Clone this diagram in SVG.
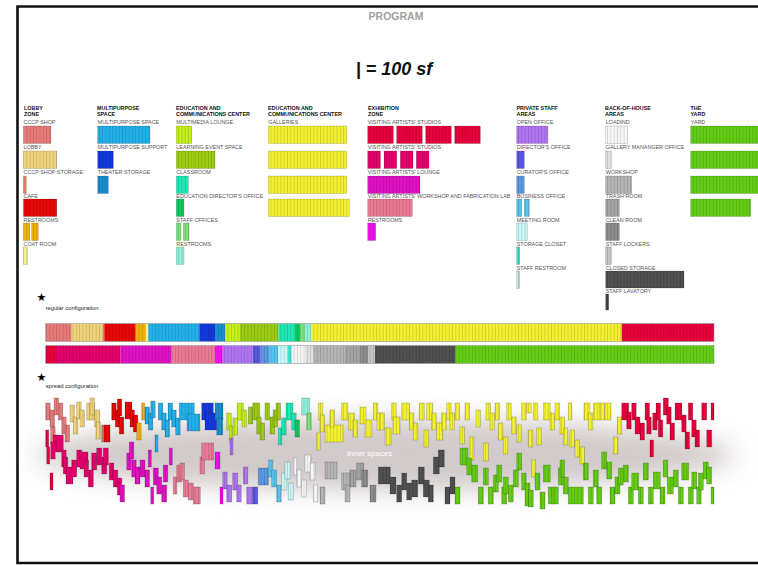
<svg xmlns="http://www.w3.org/2000/svg" xmlns:xlink="http://www.w3.org/1999/xlink" width="758" height="565" viewBox="0 0 758 565">
<style>
.hd{font:bold 5.4px "Liberation Sans",Arial,sans-serif;fill:#111}
.lb{font:5.4px "Liberation Sans",Arial,sans-serif;fill:#555}
.sm{font:5.8px "Liberation Sans",Arial,sans-serif;fill:#222}
.st{font:11px "DejaVu Sans",sans-serif;fill:#000}
.bars rect{stroke:#000;stroke-opacity:.28;stroke-width:.5}
#spread rect{stroke-width:.8;stroke-opacity:.22}
.a{fill:url(#pa)}.b{fill:url(#pb)}.c{fill:url(#pc)}.d{fill:url(#pd)}.e{fill:url(#pe)}.f{fill:url(#pf)}.g{fill:url(#pg)}.h{fill:url(#ph)}.i{fill:url(#pi)}.j{fill:url(#pj)}.k{fill:url(#pk)}.l{fill:url(#pl)}.m{fill:url(#pm)}.n{fill:url(#pn)}.o{fill:url(#po)}.p{fill:url(#pp)}.q{fill:url(#pq)}.r{fill:url(#pr)}.s{fill:url(#ps)}.t{fill:url(#pt)}.u{fill:url(#pu)}.v{fill:url(#pv)}.w{fill:url(#pw)}.x{fill:url(#px)}.y{fill:url(#py)}.z{fill:url(#pz)}.A{fill:url(#pA)}.B{fill:url(#pB)}.C{fill:url(#pC)}.D{fill:url(#pD)}.E{fill:url(#pE)}.F{fill:url(#pF)}.G{fill:url(#pG)}.H{fill:url(#pH)}.I{fill:url(#pI)}.J{fill:url(#pJ)}.K{fill:url(#pK)}
</style>
<defs>
<rect id="sl" width=".6" height="4" fill="#000" fill-opacity=".2"/>
<pattern id="pa" width="3.3" height="4" patternUnits="userSpaceOnUse"><rect width="3.3" height="4" fill="#e87a7a"/><use href="#sl"/></pattern>
<pattern id="pb" width="3.3" height="4" patternUnits="userSpaceOnUse"><rect width="3.3" height="4" fill="#f0d27a"/><use href="#sl"/></pattern>
<pattern id="pc" width="3.3" height="4" patternUnits="userSpaceOnUse"><rect width="3.3" height="4" fill="#d4806a"/><use href="#sl"/></pattern>
<pattern id="pd" width="3.3" height="4" patternUnits="userSpaceOnUse"><rect width="3.3" height="4" fill="#e80808"/><use href="#sl"/></pattern>
<pattern id="pe" width="3.3" height="4" patternUnits="userSpaceOnUse"><rect width="3.3" height="4" fill="#f0b00c"/><use href="#sl"/></pattern>
<pattern id="pf" width="3.3" height="4" patternUnits="userSpaceOnUse"><rect width="3.3" height="4" fill="#f4f08a"/><use href="#sl"/></pattern>
<pattern id="pg" width="3.3" height="4" patternUnits="userSpaceOnUse"><rect width="3.3" height="4" fill="#22b0ea"/><use href="#sl"/></pattern>
<pattern id="ph" width="3.3" height="4" patternUnits="userSpaceOnUse"><rect width="3.3" height="4" fill="#1438e0"/><use href="#sl"/></pattern>
<pattern id="pi" width="3.3" height="4" patternUnits="userSpaceOnUse"><rect width="3.3" height="4" fill="#1a8ed0"/><use href="#sl"/></pattern>
<pattern id="pj" width="3.3" height="4" patternUnits="userSpaceOnUse"><rect width="3.3" height="4" fill="#c4f01c"/><use href="#sl"/></pattern>
<pattern id="pk" width="3.3" height="4" patternUnits="userSpaceOnUse"><rect width="3.3" height="4" fill="#9ccc12"/><use href="#sl"/></pattern>
<pattern id="pl" width="3.3" height="4" patternUnits="userSpaceOnUse"><rect width="3.3" height="4" fill="#20e8b4"/><use href="#sl"/></pattern>
<pattern id="pm" width="3.3" height="4" patternUnits="userSpaceOnUse"><rect width="3.3" height="4" fill="#10c860"/><use href="#sl"/></pattern>
<pattern id="pn" width="3.3" height="4" patternUnits="userSpaceOnUse"><rect width="3.3" height="4" fill="#7ee07a"/><use href="#sl"/></pattern>
<pattern id="po" width="3.3" height="4" patternUnits="userSpaceOnUse"><rect width="3.3" height="4" fill="#8ef0d8"/><use href="#sl"/></pattern>
<pattern id="pp" width="3.3" height="4" patternUnits="userSpaceOnUse"><rect width="3.3" height="4" fill="#f2f030"/><use href="#sl"/></pattern>
<pattern id="pq" width="3.3" height="4" patternUnits="userSpaceOnUse"><rect width="3.3" height="4" fill="#e8003c"/><use href="#sl"/></pattern>
<pattern id="pr" width="3.3" height="4" patternUnits="userSpaceOnUse"><rect width="3.3" height="4" fill="#e4006c"/><use href="#sl"/></pattern>
<pattern id="ps" width="3.3" height="4" patternUnits="userSpaceOnUse"><rect width="3.3" height="4" fill="#e012c4"/><use href="#sl"/></pattern>
<pattern id="pt" width="3.3" height="4" patternUnits="userSpaceOnUse"><rect width="3.3" height="4" fill="#ea7a94"/><use href="#sl"/></pattern>
<pattern id="pu" width="3.3" height="4" patternUnits="userSpaceOnUse"><rect width="3.3" height="4" fill="#f010f0"/><use href="#sl"/></pattern>
<pattern id="pv" width="3.3" height="4" patternUnits="userSpaceOnUse"><rect width="3.3" height="4" fill="#b074f0"/><use href="#sl"/></pattern>
<pattern id="pw" width="3.3" height="4" patternUnits="userSpaceOnUse"><rect width="3.3" height="4" fill="#5858e0"/><use href="#sl"/></pattern>
<pattern id="px" width="3.3" height="4" patternUnits="userSpaceOnUse"><rect width="3.3" height="4" fill="#5a98e4"/><use href="#sl"/></pattern>
<pattern id="py" width="3.3" height="4" patternUnits="userSpaceOnUse"><rect width="3.3" height="4" fill="#56c4f0"/><use href="#sl"/></pattern>
<pattern id="pz" width="3.3" height="4" patternUnits="userSpaceOnUse"><rect width="3.3" height="4" fill="#c8f8f8"/><use href="#sl"/></pattern>
<pattern id="pA" width="3.3" height="4" patternUnits="userSpaceOnUse"><rect width="3.3" height="4" fill="#40e0d0"/><use href="#sl"/></pattern>
<pattern id="pB" width="3.3" height="4" patternUnits="userSpaceOnUse"><rect width="3.3" height="4" fill="#c8e4e4"/><use href="#sl"/></pattern>
<pattern id="pC" width="3.3" height="4" patternUnits="userSpaceOnUse"><rect width="3.3" height="4" fill="#f6f6f6"/><use href="#sl"/></pattern>
<pattern id="pD" width="3.3" height="4" patternUnits="userSpaceOnUse"><rect width="3.3" height="4" fill="#e0e0e0"/><use href="#sl"/></pattern>
<pattern id="pE" width="3.3" height="4" patternUnits="userSpaceOnUse"><rect width="3.3" height="4" fill="#b4b4b4"/><use href="#sl"/></pattern>
<pattern id="pF" width="3.3" height="4" patternUnits="userSpaceOnUse"><rect width="3.3" height="4" fill="#a4a4a4"/><use href="#sl"/></pattern>
<pattern id="pG" width="3.3" height="4" patternUnits="userSpaceOnUse"><rect width="3.3" height="4" fill="#8c8c8c"/><use href="#sl"/></pattern>
<pattern id="pH" width="3.3" height="4" patternUnits="userSpaceOnUse"><rect width="3.3" height="4" fill="#c4c4c4"/><use href="#sl"/></pattern>
<pattern id="pI" width="3.3" height="4" patternUnits="userSpaceOnUse"><rect width="3.3" height="4" fill="#505050"/><use href="#sl"/></pattern>
<pattern id="pJ" width="3.3" height="4" patternUnits="userSpaceOnUse"><rect width="3.3" height="4" fill="#444444"/><use href="#sl"/></pattern>
<pattern id="pK" width="3.3" height="4" patternUnits="userSpaceOnUse"><rect width="3.3" height="4" fill="#64cc14"/><use href="#sl"/></pattern>
<filter id="blur" x="-20%" y="-100%" width="140%" height="300%"><feGaussianBlur stdDeviation="12"/></filter>
</defs>
<rect width="758" height="565" fill="#fff"/>
<path d="M760,6.5H17.5V563H760" fill="none" stroke="#111" stroke-width="2.6"/>
<text x="396" y="20" text-anchor="middle" style="font:bold 10.5px 'Liberation Sans',Arial,sans-serif;fill:#a0a0a0">PROGRAM</text>
<text x="394" y="75" text-anchor="middle" style="font:italic bold 18px 'Liberation Sans',Arial,sans-serif;fill:#111">| = 100 sf</text>

<g id="lobby-zone" class="bars">
<text class="hd" x="24" y="109.7">LOBBY</text><text class="hd" x="24" y="116">ZONE</text>
<text class="lb" x="23.5" y="124">CCCP SHOP</text><rect class="a" x="23.5" y="126" width="27.5" height="17.5"/>
<text class="lb" x="23.5" y="149">LOBBY</text><rect class="b" x="23.5" y="151" width="33.3" height="17.5"/>
<text class="lb" x="23.5" y="174">CCCP SHOP STORAGE</text><rect class="c" x="23.5" y="176" width="2.7" height="17.5"/>
<text class="lb" x="23.5" y="198">CAFE</text><rect class="d" x="23.5" y="199" width="33.3" height="17.5"/>
<text class="lb" x="23.5" y="222">RESTROOMS</text><rect class="e" x="23.5" y="223" width="6.3" height="17.5"/><rect class="e" x="31.7" y="223" width="6.6" height="17.5"/>
<text class="lb" x="23.5" y="246">COAT ROOM</text><rect class="f" x="23.5" y="247" width="4" height="17.5"/>
</g>
<g id="multipurpose-space" class="bars">
<text class="hd" x="97" y="109.7">MULTIPURPOSE</text><text class="hd" x="97" y="116">SPACE</text>
<text class="lb" x="97.7" y="124">MULTIPURPOSE SPACE</text><rect class="g" x="97.7" y="126" width="52.3" height="17.5"/>
<text class="lb" x="97.7" y="149">MULTIPURPOSE SUPPORT</text><rect class="h" x="97.7" y="151" width="15.6" height="17.5"/>
<text class="lb" x="97.7" y="174">THEATER STORAGE</text><rect class="i" x="97.7" y="176" width="10.6" height="17.5"/>
</g>
<g id="education-center" class="bars">
<text class="hd" x="176" y="109.7">EDUCATION AND</text><text class="hd" x="176" y="116">COMMUNICATIONS CENTER</text>
<text class="lb" x="176.3" y="124">MULTIMEDIA LOUNGE</text><rect class="j" x="176.3" y="126" width="15.4" height="17.5"/>
<text class="lb" x="176.3" y="149">LEARNING EVENT SPACE</text><rect class="k" x="176.3" y="151" width="38.7" height="17.5"/>
<text class="lb" x="176.3" y="174">CLASSROOM</text><rect class="l" x="176.3" y="176" width="12" height="17.5"/>
<text class="lb" x="176.3" y="198">EDUCATION DIRECTOR'S OFFICE</text><rect class="m" x="176.3" y="199" width="7.7" height="17.5"/>
<text class="lb" x="176.3" y="222">STAFF OFFICES</text><rect class="n" x="176.3" y="223" width="4.7" height="17.5"/><rect class="n" x="183.3" y="223" width="5.7" height="17.5"/>
<text class="lb" x="176.3" y="246">RESTROOMS</text><rect class="o" x="176.3" y="247" width="7.7" height="17.5"/>
</g>
<g id="galleries" class="bars">
<text class="hd" x="268" y="109.7">EDUCATION AND</text><text class="hd" x="268" y="116">COMMUNICATIONS CENTER</text>
<text class="lb" x="268.3" y="124">GALLERIES</text>
<rect class="p" x="268.3" y="126" width="78.4" height="17.5"/>
<rect class="p" x="268.3" y="151" width="78.4" height="17.5"/>
<rect class="p" x="268.3" y="176" width="78.4" height="17.5"/>
<rect class="p" x="268.3" y="199" width="81" height="17.5"/>
</g>
<g id="exhibition-zone" class="bars">
<text class="hd" x="368" y="109.7">EXHIBITION</text><text class="hd" x="368" y="116">ZONE</text>
<text class="lb" x="367.7" y="124">VISITING ARTISTS' STUDIOS</text>
<rect class="q" x="367.7" y="126" width="25.6" height="17.5"/><rect class="q" x="396.7" y="126" width="25.6" height="17.5"/><rect class="q" x="425.7" y="126" width="25.6" height="17.5"/><rect class="q" x="454.7" y="126" width="25.6" height="17.5"/>
<text class="lb" x="367.7" y="149">VISITING ARTISTS' STUDIOS</text>
<rect class="r" x="367.7" y="151" width="12.7" height="17.5"/><rect class="r" x="384" y="151" width="12.7" height="17.5"/><rect class="r" x="400.3" y="151" width="12.7" height="17.5"/><rect class="r" x="416.3" y="151" width="12.7" height="17.5"/>
<text class="lb" x="367.7" y="174">VISITING ARTISTS' LOUNGE</text><rect class="s" x="367.7" y="176" width="52.3" height="17.5"/>
<text class="lb" x="367.7" y="198">VISITING ARTISTS' WORKSHOP AND FABRICATION LAB</text><rect class="t" x="367.7" y="199" width="44.6" height="17.5"/>
<text class="lb" x="367.7" y="222">RESTROOMS</text><rect class="u" x="367.7" y="223" width="8" height="17.5"/>
</g>
<g id="private-staff-areas" class="bars">
<text class="hd" x="516.5" y="109.7">PRIVATE STAFF</text><text class="hd" x="516.5" y="116">AREAS</text>
<text class="lb" x="516.7" y="124">OPEN OFFICE</text><rect class="v" x="516.7" y="126" width="31.3" height="17.5"/>
<text class="lb" x="516.7" y="149">DIRECTOR'S OFFICE</text><rect class="w" x="516.7" y="151" width="7.6" height="17.5"/>
<text class="lb" x="516.7" y="174">CURATOR'S OFFICE</text><rect class="x" x="516.7" y="176" width="7.6" height="17.5"/>
<text class="lb" x="516.7" y="198">BUSINESS OFFICE</text><rect class="y" x="516.7" y="199" width="5" height="17.5"/><rect class="y" x="524.3" y="199" width="5" height="17.5"/>
<text class="lb" x="516.7" y="222">MEETING ROOM</text><rect class="z" x="516.7" y="223" width="10.6" height="17.5"/>
<text class="lb" x="516.7" y="246">STORAGE CLOSET</text><rect class="A" x="516.7" y="247" width="3" height="17.5"/>
<text class="lb" x="516.7" y="270">STAFF RESTROOM</text><rect class="B" x="516.7" y="271" width="3" height="17.5"/>
</g>
<g id="back-of-house-areas" class="bars">
<text class="hd" x="605" y="109.7">BACK-OF-HOUSE</text><text class="hd" x="605" y="116">AREAS</text>
<text class="lb" x="605.7" y="124">LOADIND</text><rect class="C" x="605.7" y="126" width="21.6" height="17.5"/>
<text class="lb" x="605.7" y="149">GALLERY MANANGER OFFICE</text><rect class="D" x="605.7" y="151" width="5.6" height="17.5"/>
<text class="lb" x="605.7" y="174">WORKSHOP</text><rect class="E" x="605.7" y="176" width="26" height="17.5"/>
<text class="lb" x="605.7" y="198">TRASH ROOM</text><rect class="F" x="605.7" y="199" width="13.6" height="17.5"/>
<text class="lb" x="605.7" y="222">CLEAN ROOM</text><rect class="G" x="605.7" y="223" width="13.6" height="17.5"/>
<text class="lb" x="605.7" y="246">STAFF LOCKERS</text><rect class="H" x="605.7" y="247" width="5.6" height="17.5"/>
<text class="lb" x="605.7" y="270">CLOSED STORAGE</text><rect class="I" x="605.7" y="271" width="78.3" height="17"/>
<text class="lb" x="605.7" y="293">STAFF LAVATORY</text><rect class="J" x="605.7" y="294" width="3" height="16"/>
</g>
<g id="the-yard" class="bars">
<text class="hd" x="690.5" y="109.7">THE</text><text class="hd" x="690.5" y="116">YARD</text>
<text class="lb" x="690.7" y="124">YARD</text>
<rect class="K" x="690.7" y="126" width="70" height="17.5"/>
<rect class="K" x="690.7" y="151" width="70" height="17.5"/>
<rect class="K" x="690.7" y="176" width="70" height="17.5"/>
<rect class="K" x="690.7" y="199" width="60" height="17.5"/>
</g>

<g id="regular-configuration">
<text class="st" x="36.5" y="301">★</text>
<text class="sm" x="45.7" y="310">regular configuration</text>
<g>
<rect class="a" x="45.7" y="323.5" width="26" height="18"/><rect class="b" x="71.7" y="323.5" width="31" height="18"/><rect class="c" x="102.7" y="323.5" width="1.6" height="18"/><rect class="d" x="104.3" y="323.5" width="31.4" height="18"/><rect class="e" x="135.7" y="323.5" width="10" height="18"/><rect class="f" x="145.7" y="323.5" width="2.6" height="18"/><rect class="g" x="148.3" y="323.5" width="51" height="18"/><rect class="h" x="199.3" y="323.5" width="15.7" height="18"/><rect class="i" x="215" y="323.5" width="10" height="18"/><rect class="j" x="225" y="323.5" width="15" height="18"/><rect class="k" x="240" y="323.5" width="38.3" height="18"/><rect class="l" x="278.3" y="323.5" width="16.7" height="18"/><rect class="m" x="295" y="323.5" width="5" height="18"/><rect class="n" x="300" y="323.5" width="5" height="18"/><rect class="o" x="305" y="323.5" width="6.7" height="18"/><rect class="p" x="311.7" y="323.5" width="310" height="18"/><rect class="q" x="621.7" y="323.5" width="92.3" height="18"/>
<rect class="q" x="45.7" y="345.5" width="10.3" height="18"/><rect class="r" x="56" y="345.5" width="64.7" height="18"/><rect class="s" x="120.7" y="345.5" width="51" height="18"/><rect class="t" x="171.7" y="345.5" width="43.3" height="18"/><rect class="u" x="215" y="345.5" width="7.7" height="18"/><rect class="v" x="222.7" y="345.5" width="30" height="18"/><rect class="w" x="252.7" y="345.5" width="8" height="18"/><rect class="x" x="260.7" y="345.5" width="8.3" height="18"/><rect class="y" x="269" y="345.5" width="9.3" height="18"/><rect class="z" x="278.3" y="345.5" width="9.7" height="18"/><rect class="A" x="288" y="345.5" width="3.7" height="18"/><rect class="C" x="291.7" y="345.5" width="13.3" height="18"/><rect class="D" x="305" y="345.5" width="8.3" height="18"/><rect class="E" x="313.3" y="345.5" width="31.7" height="18"/><rect class="F" x="345" y="345.5" width="15" height="18"/><rect class="G" x="360" y="345.5" width="8" height="18"/><rect class="H" x="368" y="345.5" width="7" height="18"/><rect class="I" x="375" y="345.5" width="80.7" height="18"/><rect class="K" x="455.7" y="345.5" width="258.3" height="18"/>
<rect x="45.7" y="323.5" width="668.3" height="18" fill="none" stroke="#999" stroke-width=".6"/>
<rect x="45.7" y="345.5" width="668.3" height="18" fill="none" stroke="#999" stroke-width=".6"/>
</g>
</g>

<g id="spread-configuration">
<text class="st" x="36.5" y="381">★</text>
<text class="sm" x="45.7" y="388">spread configuration</text>
<ellipse cx="385" cy="455" rx="350" ry="36" fill="#d2caca" filter="url(#blur)"/>
<text x="347" y="456" style="font:8px 'Liberation Sans',Arial,sans-serif;fill:#fff">inner spaces</text>
<g id="spread" class="bars">
<rect class="a" x="45.7" y="403" width="4.5" height="17"/><rect class="a" x="50" y="410" width="4.5" height="17"/><rect class="a" x="54" y="398" width="4.5" height="17"/><rect class="a" x="58.3" y="403" width="4.5" height="17"/><rect class="a" x="61.7" y="417" width="4.5" height="17"/><rect class="a" x="65" y="425" width="4.5" height="17"/><rect class="a" x="50.7" y="427" width="4.5" height="17"/>
<rect class="b" x="70" y="405" width="4.5" height="17"/><rect class="b" x="73.3" y="417" width="4.5" height="17"/><rect class="b" x="76.7" y="402" width="4.5" height="17"/><rect class="b" x="80" y="410" width="4.5" height="17"/><rect class="b" x="86.7" y="403" width="8" height="17"/><rect class="b" x="90" y="398" width="4.5" height="17"/><rect class="b" x="94.7" y="410" width="5" height="17"/><rect class="b" x="96" y="422" width="4.5" height="17"/>
<rect class="c" x="101.7" y="425" width="2.5" height="17"/>
<rect class="d" x="104" y="425" width="6" height="17"/><rect class="d" x="111.7" y="403" width="4.5" height="17"/><rect class="d" x="115.3" y="410" width="4.5" height="17"/><rect class="d" x="117.3" y="399" width="4.5" height="17"/><rect class="d" x="119.3" y="417" width="4.5" height="17"/><rect class="d" x="125" y="402" width="7" height="17"/><rect class="d" x="130" y="410" width="4.5" height="17"/><rect class="d" x="133.3" y="415" width="4.5" height="17"/>
<rect class="e" x="136.7" y="423" width="4.5" height="17"/><rect class="e" x="141.7" y="403" width="3" height="17"/>
<rect class="g" x="145" y="407" width="4.5" height="17"/><rect class="g" x="148.3" y="413" width="4.5" height="17"/><rect class="g" x="150.7" y="401" width="4.5" height="17"/><rect class="g" x="155" y="435" width="3" height="17"/><rect class="g" x="158.3" y="403" width="4.5" height="17"/><rect class="g" x="161.7" y="413" width="4.5" height="17"/><rect class="g" x="165" y="420" width="4.5" height="17"/><rect class="g" x="168" y="403" width="4.5" height="17"/><rect class="g" x="171.7" y="410" width="4.5" height="17"/><rect class="g" x="175.7" y="418" width="4.5" height="17"/><rect class="g" x="179.3" y="403" width="15" height="17"/><rect class="g" x="187" y="414" width="13" height="17"/>
<rect class="h" x="201.7" y="403" width="11.6" height="17"/><rect class="h" x="205" y="413" width="11.7" height="17"/>
<rect class="i" x="215" y="403" width="8" height="17"/><rect class="i" x="216.7" y="418" width="6" height="17"/>
<rect class="j" x="226.7" y="413" width="4.5" height="17"/><rect class="j" x="229.3" y="426" width="3.5" height="17"/><rect class="j" x="233" y="418" width="4.5" height="17"/><rect class="j" x="237.3" y="403" width="6" height="17"/><rect class="j" x="242" y="410" width="4.5" height="17"/>
<rect class="k" x="248.3" y="407" width="4.5" height="17"/><rect class="k" x="252.7" y="403" width="7" height="17"/><rect class="k" x="256.7" y="417" width="4.5" height="17"/><rect class="k" x="260" y="423" width="4.5" height="17"/><rect class="k" x="265" y="403" width="4.5" height="17"/><rect class="k" x="270" y="417" width="4.5" height="17"/><rect class="k" x="273" y="410" width="4.5" height="17"/><rect class="k" x="276" y="403" width="4.5" height="17"/>
<rect class="l" x="278.3" y="428" width="3.5" height="17"/><rect class="l" x="281.7" y="418" width="4.5" height="17"/><rect class="l" x="286" y="403" width="7" height="17"/><rect class="l" x="291.7" y="413" width="4.5" height="17"/>
<rect class="m" x="295" y="420" width="4.5" height="17"/><rect class="o" x="301.7" y="398" width="8" height="17"/><rect class="n" x="306.7" y="413" width="4.5" height="17"/>
<rect class="p" x="318.3" y="403" width="4.5" height="17"/><rect class="p" x="320" y="415" width="4.5" height="17"/><rect class="p" x="316.7" y="433" width="3.5" height="17"/><rect class="p" x="325" y="425" width="18" height="17"/><rect class="p" x="330" y="410" width="4.5" height="17"/><rect class="p" x="341.7" y="403" width="6" height="17"/><rect class="p" x="348.3" y="413" width="6" height="17"/><rect class="p" x="353" y="420" width="4.5" height="17"/><rect class="p" x="360" y="407" width="6" height="17"/><rect class="p" x="365" y="420" width="7" height="17"/><rect class="p" x="373.3" y="403" width="4.5" height="17"/><rect class="p" x="377" y="413" width="4.5" height="17"/><rect class="p" x="380" y="413" width="4.5" height="17"/><rect class="p" x="385" y="428" width="6" height="17"/><rect class="p" x="391.7" y="403" width="4.5" height="17"/><rect class="p" x="393" y="417" width="7" height="17"/><rect class="p" x="401.7" y="403" width="8" height="17"/><rect class="p" x="409.3" y="413" width="4.5" height="17"/><rect class="p" x="413.3" y="423" width="4.5" height="17"/><rect class="p" x="419.3" y="403" width="5" height="17"/><rect class="p" x="424" y="430" width="4.5" height="17"/><rect class="p" x="426.7" y="403" width="6" height="17"/><rect class="p" x="431.7" y="413" width="4.5" height="17"/><rect class="p" x="436.7" y="423" width="6" height="17"/><rect class="p" x="441.7" y="413" width="4.5" height="17"/><rect class="p" x="446.7" y="403" width="4.5" height="17"/><rect class="p" x="450" y="413" width="4.5" height="17"/><rect class="p" x="455" y="403" width="4.5" height="17"/><rect class="p" x="460" y="427" width="4.5" height="17"/><rect class="p" x="465" y="403" width="4.5" height="17"/><rect class="p" x="470" y="437" width="4" height="23"/><rect class="p" x="476" y="410" width="4.5" height="17"/><rect class="p" x="483.3" y="443" width="5" height="18"/><rect class="p" x="486" y="403" width="4.5" height="17"/><rect class="p" x="490" y="413" width="4.5" height="17"/><rect class="p" x="495" y="403" width="4.5" height="17"/><rect class="p" x="498.3" y="423" width="4.5" height="17"/><rect class="p" x="503.3" y="437" width="4.5" height="17"/><rect class="p" x="506.7" y="403" width="4.5" height="17"/><rect class="p" x="511.7" y="417" width="4.5" height="17"/><rect class="p" x="516.7" y="425" width="4.5" height="17"/><rect class="p" x="521.7" y="403" width="4.5" height="17"/><rect class="p" x="526.7" y="403" width="4.5" height="10"/><rect class="p" x="528.3" y="430" width="4.5" height="17"/><rect class="p" x="533.3" y="403" width="4.5" height="17"/><rect class="p" x="536.7" y="428" width="4.5" height="17"/><rect class="p" x="543.3" y="403" width="7" height="17"/><rect class="p" x="550" y="413" width="4.5" height="17"/><rect class="p" x="555" y="403" width="4.5" height="17"/><rect class="p" x="560" y="417" width="4.5" height="17"/><rect class="p" x="563.3" y="428" width="4.5" height="17"/><rect class="p" x="568.3" y="403" width="3.5" height="17"/><rect class="p" x="570" y="430" width="4.5" height="17"/><rect class="p" x="575" y="440" width="4.5" height="17"/><rect class="p" x="580" y="447" width="4.5" height="17"/><rect class="p" x="584" y="403" width="6" height="17"/><rect class="p" x="588.3" y="413" width="4.5" height="17"/><rect class="p" x="593.3" y="403" width="7" height="17"/><rect class="p" x="600" y="403" width="4.5" height="17"/><rect class="p" x="605" y="403" width="6" height="17"/><rect class="p" x="613.3" y="437" width="4.5" height="17"/><rect class="p" x="617.3" y="417" width="4.5" height="17"/><rect class="p" x="531.7" y="460" width="4" height="17"/>
<rect class="q" x="621.7" y="403" width="7" height="17"/><rect class="q" x="626.7" y="412" width="4.5" height="17"/><rect class="q" x="631.7" y="403" width="4.5" height="17"/><rect class="q" x="635" y="417" width="5" height="17"/><rect class="q" x="640" y="423" width="4.5" height="17"/><rect class="q" x="645" y="403" width="4.5" height="17"/><rect class="q" x="646.7" y="417" width="4.5" height="17"/><rect class="q" x="650" y="440" width="3.5" height="17"/><rect class="q" x="652.7" y="413" width="4.5" height="17"/><rect class="q" x="656" y="403" width="4.5" height="17"/><rect class="q" x="658.3" y="420" width="4.5" height="17"/><rect class="q" x="663.3" y="398" width="5" height="17"/><rect class="q" x="666.7" y="407" width="4.5" height="17"/><rect class="q" x="670" y="423" width="4.5" height="17"/><rect class="q" x="675" y="403" width="7" height="17"/><rect class="q" x="681.7" y="415" width="4.5" height="17"/><rect class="q" x="685" y="432" width="4.5" height="17"/><rect class="q" x="688.3" y="403" width="4.5" height="17"/><rect class="q" x="691.7" y="420" width="4.5" height="17"/><rect class="q" x="695" y="430" width="4.5" height="17"/><rect class="q" x="701.7" y="403" width="5" height="17"/><rect class="q" x="706.7" y="430" width="5" height="17"/><rect class="q" x="711" y="403" width="3" height="17"/>
<rect class="q" x="45.7" y="430" width="3" height="17"/><rect class="q" x="46.7" y="447" width="3" height="17"/><rect class="q" x="50" y="473" width="3" height="17"/>
<rect class="r" x="53.3" y="435" width="10" height="17"/><rect class="r" x="50.7" y="442" width="4.5" height="17"/><rect class="r" x="61.7" y="450" width="4.5" height="17"/><rect class="r" x="63.3" y="457" width="4.5" height="17"/><rect class="r" x="66" y="467" width="7" height="17"/><rect class="r" x="71.7" y="460" width="5" height="17"/><rect class="r" x="76.7" y="450" width="5" height="17"/><rect class="r" x="80" y="452" width="8" height="17"/><rect class="r" x="84" y="460" width="4.5" height="17"/><rect class="r" x="88.3" y="470" width="5" height="17"/><rect class="r" x="91.7" y="453" width="5" height="17"/><rect class="r" x="96.7" y="448" width="5" height="17"/><rect class="r" x="101.7" y="457" width="5" height="17"/><rect class="r" x="103.3" y="448" width="5" height="17"/><rect class="r" x="109.3" y="463" width="4.5" height="17"/><rect class="r" x="113.3" y="470" width="4.5" height="17"/><rect class="r" x="117.3" y="478" width="4.5" height="17"/>
<rect class="s" x="120" y="485" width="4.5" height="17"/><rect class="s" x="126.7" y="453" width="4.5" height="17"/><rect class="s" x="129.3" y="442" width="4.5" height="17"/><rect class="s" x="131.7" y="460" width="4.5" height="17"/><rect class="s" x="135" y="467" width="5" height="17"/><rect class="s" x="140" y="460" width="5" height="17"/><rect class="s" x="145" y="470" width="4.5" height="17"/><rect class="s" x="148.3" y="450" width="3" height="17"/><rect class="s" x="150.7" y="487" width="3" height="17"/><rect class="s" x="153.3" y="468" width="5" height="17"/><rect class="s" x="156.7" y="477" width="5" height="17"/><rect class="s" x="161.7" y="485" width="5" height="17"/><rect class="s" x="163.3" y="465" width="4.5" height="17"/><rect class="s" x="169.3" y="448" width="3" height="17"/>
<rect class="t" x="173.3" y="477" width="3.5" height="17"/><rect class="t" x="176.7" y="465" width="5" height="17"/><rect class="t" x="180" y="463" width="4.5" height="17"/><rect class="t" x="183.3" y="480" width="5" height="17"/><rect class="t" x="188.3" y="483" width="5" height="17"/><rect class="t" x="193.3" y="487" width="7" height="17"/><rect class="t" x="200" y="457" width="4.5" height="17"/><rect class="t" x="201.7" y="443" width="12" height="17"/>
<rect class="u" x="215" y="452" width="5" height="17"/><rect class="u" x="220" y="487" width="3" height="17"/>
<rect class="v" x="222.7" y="472" width="4.5" height="17"/><rect class="v" x="226.7" y="485" width="5" height="17"/><rect class="v" x="230" y="438" width="3" height="17"/><rect class="v" x="232.7" y="473" width="5" height="17"/><rect class="v" x="236.7" y="485" width="4.5" height="17"/><rect class="v" x="243.3" y="467" width="4.5" height="17"/><rect class="v" x="246.7" y="487" width="6" height="17"/>
<rect class="w" x="252.7" y="487" width="5" height="17"/><rect class="x" x="258.3" y="468" width="10" height="17"/>
<rect class="y" x="268.3" y="460" width="4.5" height="17"/><rect class="y" x="271.7" y="470" width="5" height="17"/><rect class="y" x="276.7" y="485" width="4.5" height="17"/>
<rect class="z" x="281.7" y="473" width="5" height="17"/><rect class="z" x="285" y="462" width="5" height="17"/><rect class="z" x="288.3" y="483" width="5" height="17"/>
<rect class="C" x="293.3" y="458" width="3.5" height="17"/><rect class="C" x="296.7" y="470" width="5" height="17"/><rect class="C" x="301.7" y="480" width="4.5" height="17"/><rect class="C" x="305" y="455" width="6" height="17"/><rect class="C" x="310" y="463" width="5" height="17"/><rect class="C" x="313.3" y="485" width="4.5" height="17"/>
<rect class="E" x="320" y="487" width="5" height="17"/><rect class="E" x="325" y="462" width="12" height="17"/><rect class="E" x="341.7" y="473" width="8" height="17"/><rect class="E" x="345" y="485" width="5" height="17"/><rect class="F" x="350" y="470" width="6" height="17"/><rect class="F" x="356.7" y="463" width="7" height="17"/><rect class="G" x="361.7" y="470" width="6" height="17"/><rect class="G" x="370" y="485" width="6" height="17"/>
<rect class="I" x="378.3" y="467" width="12" height="17"/><rect class="I" x="390" y="477" width="6" height="17"/><rect class="I" x="396.7" y="485" width="5" height="17"/><rect class="I" x="401.7" y="473" width="5" height="17"/><rect class="I" x="406.7" y="483" width="5" height="17"/><rect class="I" x="411.7" y="480" width="6" height="17"/><rect class="I" x="418.3" y="467" width="6" height="17"/><rect class="I" x="423.3" y="480" width="6" height="17"/><rect class="I" x="428.3" y="485" width="5" height="17"/><rect class="I" x="433.3" y="457" width="6" height="17"/><rect class="I" x="438.3" y="450" width="6" height="17"/><rect class="I" x="445" y="487" width="5" height="17"/><rect class="I" x="450" y="477" width="5" height="17"/>
<rect class="K" x="455" y="487" width="5" height="17"/><rect class="K" x="460" y="448" width="8" height="17"/><rect class="K" x="466.7" y="458" width="5" height="17"/><rect class="K" x="471.7" y="465" width="6" height="17"/><rect class="K" x="478.3" y="487" width="5" height="17"/><rect class="K" x="483.3" y="468" width="5" height="17"/><rect class="K" x="488.3" y="487" width="5" height="17"/><rect class="K" x="493.3" y="475" width="5" height="17"/><rect class="K" x="496.7" y="465" width="5" height="17"/><rect class="K" x="501.7" y="487" width="5" height="17"/><rect class="K" x="503.3" y="477" width="5" height="17"/><rect class="K" x="508.3" y="485" width="5" height="17"/><rect class="K" x="513.3" y="470" width="5" height="17"/><rect class="K" x="516.7" y="453" width="5" height="17"/><rect class="K" x="521.7" y="473" width="4.5" height="17"/><rect class="K" x="525" y="483" width="5" height="23"/><rect class="K" x="528.3" y="490" width="5" height="17"/><rect class="K" x="535" y="473" width="5" height="17"/><rect class="K" x="540" y="492" width="5" height="17"/><rect class="K" x="543.3" y="465" width="7" height="17"/><rect class="K" x="548.3" y="487" width="5" height="17"/><rect class="K" x="553.3" y="487" width="5" height="17"/><rect class="K" x="558.3" y="468" width="5" height="17"/><rect class="K" x="560" y="460" width="4.5" height="17"/><rect class="K" x="563.3" y="477" width="5" height="17"/><rect class="K" x="568.3" y="487" width="15" height="17"/><rect class="K" x="583.3" y="463" width="5" height="17"/><rect class="K" x="588.3" y="487" width="5" height="17"/><rect class="K" x="593.3" y="470" width="5" height="17"/><rect class="K" x="596.7" y="487" width="5" height="17"/><rect class="K" x="601.7" y="452" width="5" height="17"/><rect class="K" x="606.7" y="462" width="5" height="17"/><rect class="K" x="610" y="487" width="5" height="17"/><rect class="K" x="615" y="477" width="5" height="17"/><rect class="K" x="618.3" y="468" width="5" height="17"/><rect class="K" x="623.3" y="465" width="5" height="17"/><rect class="K" x="628.3" y="487" width="5" height="17"/><rect class="K" x="631.7" y="473" width="7" height="17"/><rect class="K" x="638.3" y="487" width="5" height="17"/><rect class="K" x="643.3" y="463" width="5" height="17"/><rect class="K" x="648.3" y="487" width="5" height="17"/><rect class="K" x="653.3" y="472" width="7" height="17"/><rect class="K" x="660" y="487" width="5" height="17"/><rect class="K" x="663.3" y="460" width="4.5" height="17"/><rect class="K" x="667.3" y="477" width="6" height="17"/><rect class="K" x="673.3" y="470" width="5" height="17"/><rect class="K" x="678.3" y="487" width="5" height="17"/><rect class="K" x="681.7" y="463" width="7" height="17"/><rect class="K" x="688.3" y="487" width="5" height="17"/><rect class="K" x="691.7" y="472" width="5" height="17"/><rect class="K" x="696.7" y="487" width="4.5" height="17"/><rect class="K" x="698.3" y="473" width="5" height="17"/><rect class="K" x="703.3" y="462" width="5" height="17"/><rect class="K" x="706.7" y="467" width="5" height="17"/><rect class="K" x="711" y="487" width="3" height="17"/>
</g>
</g>
</svg>
